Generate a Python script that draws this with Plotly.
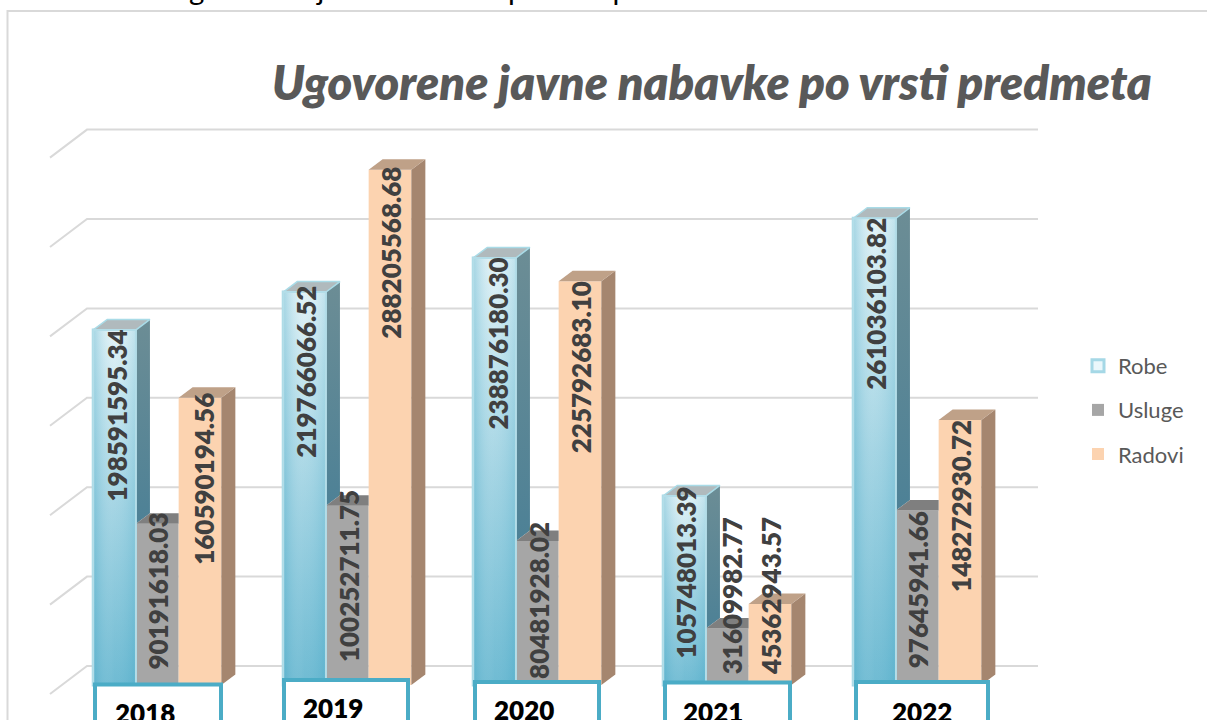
import plotly.graph_objects as go

years = [2018, 2019, 2020, 2021, 2022]
robe = [198591595.34, 219766066.52, 238876180.30, 105748013.39, 261036103.82]
usluge = [90191618.03, 100252711.75, 80481928.02, 31609982.77, 97645941.66]
radovi = [160590194.56, 288205568.68, 225792683.10, 45362943.57, 148272930.72]
series_names = ["Robe", "Usluge", "Radovi"]
robe_labels = ["198591595.34", "219766066.52", "238876180.30", "105748013.39", "261036103.82"]
usluge_labels = ["90191618.03", "100252711.75", "80481928.02", "31609982.77", "97645941.66"]
radovi_labels = ["160590194.56", "288205568.68", "225792683.10", "45362943.57", "148272930.72"]
grid_values = [0, 50e6, 100e6, 150e6, 200e6, 250e6, 300e6]

W, H = 1207, 720
PX_PER_YEAR = 190.0
PX_PER_UNIT = 1.788e-6
X0_PX, Y0_PX = 157.3, 685.0
BAR_PX = 42.7


def xd(px):
    return 2018 + (px - X0_PX) / PX_PER_YEAR


def yd(py):
    return (Y0_PX - py) / PX_PER_UNIT


BAR_W = BAR_PX / PX_PER_YEAR
DX = 14 / PX_PER_YEAR
DY = 10.5 / PX_PER_UNIT
FLOOR_Y = 19 / PX_PER_UNIT
FLOOR_DX = 37 / PX_PER_YEAR
FLOOR_DY = 28 / PX_PER_UNIT

fig = go.Figure()

values = [robe, usluge, radovi]
front_colors = ["#eaf7fb", "#a6a6a6", "#fcd3b0"]
line_colors = ["#a5d8e6", "#a6a6a6", "#fcd3b0"]
for name, v, c, lc in zip(series_names, values, front_colors, line_colors):
    fig.add_bar(
        x=years, y=v, name=name, legendgroup=name,
        marker=dict(color=c, line=dict(color=lc, width=3 if name == "Robe" else 0)),
    )

side_grad = [
    [[0, "#4d8196"], [1, "#6c8d95"]],
    [[0, "#7a7a7a"], [1, "#7a7a7a"]],
    [[0, "#a5866f"], [1, "#a5866f"]],
]
top_colors = ["#b0babd", "#7f7f7f", "#bfa188"]
top_lines = ["#a9dbe7", "#7f7f7f", "#bfa188"]

for i, yr in enumerate(years):
    for s in range(3):
        v = values[s][i]
        xl = yr + (s - 1.5) * BAR_W
        xr = xl + BAR_W
        nxt = values[s + 1][i] if s < 2 else 0
        if nxt < v:
            fig.add_scatter(
                x=[xr, xr + DX, xr + DX, xr, xr],
                y=[nxt, nxt + DY, v + DY, v, nxt],
                mode="lines", line=dict(width=0), fill="toself",
                fillgradient=dict(type="vertical", colorscale=side_grad[s]),
                showlegend=False, hoverinfo="skip",
            )
        if nxt > v + DY:
            tx = [xl, xr, xr, xl + DX, xl]
        else:
            tx = [xl, xr, xr + DX, xl + DX, xl]
        ty = [v, v, v + DY, v + DY, v]
        fig.add_scatter(
            x=tx, y=ty, mode="lines", fill="toself", fillcolor=top_colors[s],
            line=dict(color=top_lines[s], width=1.5 if s == 0 else 0),
            showlegend=False, hoverinfo="skip",
        )
    # gradient front of Robe, over its bar
    v = robe[i]
    xl = yr - 1.5 * BAR_W
    xr = xl + BAR_W
    fig.add_scatter(
        x=[xl, xr, xr, xl, xl], y=[0, 0, v, v, 0],
        mode="lines", line=dict(width=0), fill="toself",
        fillgradient=dict(type="vertical", colorscale=[
            [0, "#5cb2cd"], [0.5, "#98cfe0"], [0.8, "#c0e3ed"], [1, "#dff1f6"]]),
        showlegend=False, hoverinfo="skip",
    )
    fig.add_scatter(
        x=[xl, xr, xr, xl, xl], y=[0, 0, v, v, 0],
        mode="lines", line=dict(color="#b3dde8", width=2), fill="toself",
        fillgradient=dict(type="horizontal", colorscale=[
            [0, "rgba(92,178,205,0.45)"], [0.5, "rgba(255,255,255,0.12)"], [1, "rgba(92,178,205,0.25)"]]),
        showlegend=False, hoverinfo="skip",
    )

shapes = []
grid_line = dict(color="#d9d9d9", width=2)
for g in grid_values:
    yb = g + FLOOR_Y
    shapes.append(dict(type="path", xref="x", yref="y", layer="below", line=grid_line,
                       path=f"M {xd(87) - FLOOR_DX} {yb - FLOOR_DY} L {xd(87)} {yb} L {xd(1038)} {yb}"))

shapes.append(dict(type="rect", xref="paper", yref="paper", layer="below", line=grid_line,
                   x0=7.5 / W, x1=1.02, y0=-0.02, y1=1 - 11 / H))

box_left = [95, 284, 475, 665, 856]
box_right = [221, 408, 599, 790, 988]
box_top = [684.5, 680, 682, 682.5, 682]
year_cx = [145, 333, 524, 713, 922]
year_cy = [713, 708, 710, 712, 712]
for l, r, t in zip(box_left, box_right, box_top):
    shapes.append(dict(type="rect", xref="paper", yref="paper", layer="above", fillcolor="white",
                       line=dict(color="#4bacc6", width=4),
                       x0=l / W, x1=r / W, y0=-0.05, y1=1 - t / H))

ann = []
all_labels = [robe_labels, usluge_labels, radovi_labels]
label_up = [
    [0, 6, 0, 9, 0],
    [11, 16, 19, 111, -1],
    [5, 3, 0, 87, 0],
]
label_right = [
    [2, 1, 3, 1, 2],
    [1, 1, 1, 5, 1],
    [4, 1, 1, 1, 1],
]
LABEL_FONT = dict(family="Lato", size=26, color="#404040", weight=800)
for s in range(3):
    for i, yr in enumerate(years):
        ann.append(dict(
            x=yr + (s - 1) * BAR_W, y=values[s][i], xref="x", yref="y",
            text=all_labels[s][i], textangle=-90, showarrow=False,
            xanchor="center", yanchor="top", yshift=label_up[s][i], xshift=label_right[s][i],
            font=LABEL_FONT, borderpad=0, borderwidth=0,
        ))
for yr, cx, cy in zip(years, year_cx, year_cy):
    ann.append(dict(x=cx / W, y=1 - cy / H, xref="paper", yref="paper", text=str(yr), showarrow=False,
                    xanchor="center", yanchor="middle",
                    font=dict(family="Lato", size=26, color="#000000", weight=800)))
ann.append(dict(x=16 / W, y=1 + 20 / H, xref="paper", yref="paper", showarrow=False,
                text="Grafikon 6: Ugovorene javne nabavke po vrsti predmeta",
                xanchor="left", yanchor="bottom", yshift=-28,
                font=dict(family="Lato", size=29.5, color="#000000")))

fig.update_layout(
    width=W, height=H, margin=dict(l=0, r=0, t=0, b=0), autosize=False,
    paper_bgcolor="white", plot_bgcolor="white",
    barmode="group", bargap=1 - 3 * BAR_PX / PX_PER_YEAR, bargroupgap=0,
    xaxis=dict(visible=False, range=[xd(0), xd(W)], domain=[0, 1], fixedrange=True),
    yaxis=dict(visible=False, range=[yd(H), yd(0)], domain=[0, 1], fixedrange=True),
    title=dict(text="Ugovorene javne nabavke po vrsti predmeta", x=272 / W, xanchor="left",
               y=1 - 84 / H, yanchor="middle", xref="paper", yref="paper",
               font=dict(family="Lato", size=47, color="#595959", weight=800, style="italic")),
    legend=dict(x=1078 / W, xanchor="left", y=1 - 345 / H, yanchor="top", traceorder="grouped",
                font=dict(family="Lato", size=22, color="#595959"), tracegroupgap=12.5,
                bgcolor="rgba(0,0,0,0)", itemclick=False, itemdoubleclick=False),
    shapes=shapes, annotations=ann, hovermode=False,
)

fig.write_html("out.html", config=dict(displayModeBar=False),
               post_script="document.body.style.margin='0';document.documentElement.style.overflow='hidden';")
